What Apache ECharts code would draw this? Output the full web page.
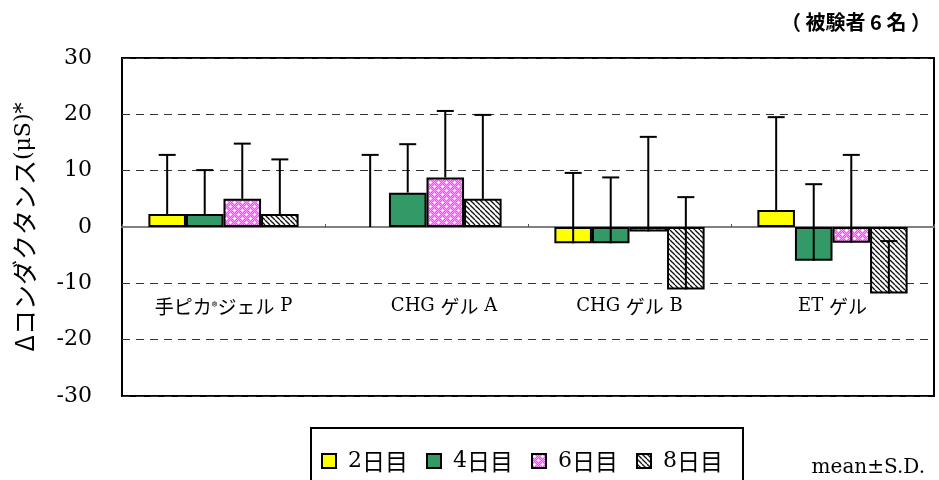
<!DOCTYPE html>
<html>
<head>
<meta charset="utf-8">
<script src="https://cdn.jsdelivr.net/npm/echarts@6/dist/echarts.min.js"></script>
<style>html,body{margin:0;padding:0;background:#fff;}#c{width:939px;height:480px;}</style>
</head>
<body>
<div id="c"></div>
<script>
const categories = ['手ピカ®ジェル P', 'CHG ゲル A', 'CHG ゲル B', 'ET ゲル'];
const seriesNames = ['2日目', '4日目', '6日目', '8日目'];
const day2 = [2.3, 0, -2.9, 3.0];
const day4 = [2.3, 6.1, -2.9, -6.0];
const day6 = [5.0, 8.8, -0.8, -2.8];
const day8 = [2.3, 5.0, -11.1, -11.8];
const sd2 = [10.5, 12.8, 12.5, 16.5];
const sd4 = [7.8, 8.6, 11.7, 13.6];
const sd6 = [9.8, 11.8, 16.8, 15.6];
const sd8 = [9.7, 14.9, 16.4, 9.3];
const yTicks = [-30, -20, -10, 0, 10, 20, 30];
const yNameKana = 'Δコンダクタンス';
const yNameUnit = '(μS)*';
const noteTop = '（ 被験者 6 名 ）';
const noteBottom = 'mean±S.D.';

const values = [day2, day4, day6, day8];
const sds = [sd2, sd4, sd6, sd8];

function makePink() {
  const c = document.createElement('canvas'); c.width = 8; c.height = 8;
  const g = c.getContext('2d');
  g.fillStyle = '#ff44ff'; g.fillRect(0, 0, 8, 8);
  g.fillStyle = '#ff9cff';
  for (let x = 0; x < 8; x++) for (let y = 0; y < 8; y++) if ((x + y) % 2 === 0) g.fillRect(x, y, 1, 1);
  g.fillStyle = '#ffffff';
  [[2, 2], [6, 6]].forEach(([px, py]) => {
    g.fillRect(px, py - 1, 1, 3); g.fillRect(px - 1, py, 3, 1);
  });
  return c;
}
function makeHatch() {
  const c = document.createElement('canvas'); c.width = 5; c.height = 5;
  const g = c.getContext('2d');
  g.fillStyle = '#ffffff'; g.fillRect(0, 0, 5, 5);
  g.strokeStyle = '#111'; g.lineWidth = 1.3;
  [-5, 0, 5].forEach(k => { g.beginPath(); g.moveTo(k, 0); g.lineTo(k + 5, 5); g.stroke(); });
  return c;
}
const fills = ['#ffff00', '#339966', { image: makePink(), repeat: 'repeat' }, { image: makeHatch(), repeat: 'repeat' }];

const SERIF = '"DejaVu Serif", "Liberation Serif", serif';
const SANS = '"Noto Sans CJK JP", sans-serif';

function richLabel(s, idx) {
  let out = '';
  let first = true;
  const tokens = s.match(/[\x20-\x7e]+|®|[^\x20-\x7e®]+/g);
  tokens.forEach(t => {
    let st;
    if (t === '®') st = 'r';
    else if (/^[\x20-\x7e]+$/.test(t)) st = 'l';
    else st = 'j';
    if (first && idx === 1) st = st + '2';
    first = false;
    out += '{' + st + '|' + t + '}';
  });
  return out;
}

const GAP = 0.26;
const barSeries = values.map((vals, k) => ({
  name: seriesNames[k],
  type: 'bar',
  barGap: 0,
  barCategoryGap: (GAP * 100) + '%',
  itemStyle: { color: fills[k], borderColor: '#000', borderWidth: 2 },
  data: vals.map(v => v === 0 ? { value: 0, itemStyle: { borderWidth: 0 } } : v),
  z: 2
}));
const errSeries = values.map((vals, k) => ({
  type: 'custom',
  name: 'err' + k,
  z: 5,
  encode: { x: 0, y: [1, 2] },
  data: vals.map((v, i) => [i, v, v + sds[k][i]]),
  renderItem: function (params, api) {
    const ci = api.value(0);
    const band = api.size([1, 0])[0];
    const bw = band * (1 - GAP) / 4;
    const cx = api.coord([ci, 0])[0] + (k - 1.5) * bw;
    const y0 = api.coord([ci, api.value(1)])[1];
    const y1 = api.coord([ci, api.value(2)])[1];
    const half = 8.5;
    const st = { stroke: '#000', lineWidth: 2 };
    return {
      type: 'group',
      children: [
        { type: 'line', shape: { x1: cx, y1: y0, x2: cx, y2: y1 }, style: st },
        { type: 'line', shape: { x1: cx - half, y1: y1, x2: cx + half, y2: y1 }, style: st }
      ]
    };
  }
}));

const chart = echarts.init(document.getElementById('c'));
chart.setOption({
  animation: false,
  backgroundColor: '#fff',
  grid: { left: 122, right: 5, top: 58, bottom: 84, show: true, borderColor: '#000', borderWidth: 2, backgroundColor: 'transparent', containLabel: false, outerBoundsMode: 'none' },
  legend: {
    data: seriesNames,
    left: 311, top: 428,
    icon: 'rect', itemWidth: 14, itemHeight: 14, itemGap: 18,
    borderColor: '#000', borderWidth: 2, padding: [19, 20, 30, 10],
    formatter: n => '{n|' + n.charAt(0) + '}{k|' + n.slice(1) + '}',
    textStyle: {
      padding: [0, 0, 0, 7],
      lineHeight: 28,
      rich: {
        n: { fontFamily: SERIF, fontSize: 22, color: '#000', lineHeight: 28 },
        k: { fontFamily: SANS, fontSize: 23, color: '#000', lineHeight: 28 }
      }
    }
  },
  xAxis: {
    type: 'category',
    data: categories,
    axisLine: { onZero: true, lineStyle: { color: '#808080', width: 2 } },
    axisTick: { show: true, inside: true, length: 3, lineStyle: { color: '#555' } },
    splitLine: { show: false },
    axisLabel: {
      interval: 0, margin: -99,
      formatter: (v, i) => richLabel(v, i),
      rich: {
        j: { fontFamily: SANS, fontSize: 19, color: '#000' },
        j2: { fontFamily: SANS, fontSize: 19, color: '#000', padding: [0, 0, 0, 35] },
        l: { fontFamily: SERIF, fontSize: 18, color: '#000' },
        l2: { fontFamily: SERIF, fontSize: 18, color: '#000', padding: [0, 0, 0, 35] },
        r: { fontFamily: SANS, fontSize: 12, color: '#000', verticalAlign: 'middle' }
      }
    }
  },
  yAxis: {
    type: 'value',
    min: yTicks[0], max: yTicks[yTicks.length - 1], interval: 10,
    axisLine: { show: false },
    axisTick: { show: false },
    splitLine: { show: true, lineStyle: { color: '#333', width: 1, type: [8, 6] } },
    axisLabel: { margin: 30, fontFamily: SERIF, fontSize: 22, color: '#000' },
    name: '{j|' + yNameKana + '}{l|' + yNameUnit + '}',
    nameLocation: 'middle',
    nameGap: 85,
    nameTextStyle: {
      rich: {
        j: { fontFamily: SANS, fontSize: 25, color: '#000' },
        l: { fontFamily: SERIF, fontSize: 22, color: '#000' }
      }
    }
  },
  graphic: [
    { type: 'text', left: 781, top: 12, style: { text: noteTop, font: 'bold 20px "Noto Sans CJK JP", sans-serif', fill: '#000' } },
    { type: 'text', right: 14, top: 458, style: { text: noteBottom, font: '20px "DejaVu Serif", serif', fill: '#000' } }
  ],
  series: barSeries.concat(errSeries)
});
</script>
</body>
</html>
